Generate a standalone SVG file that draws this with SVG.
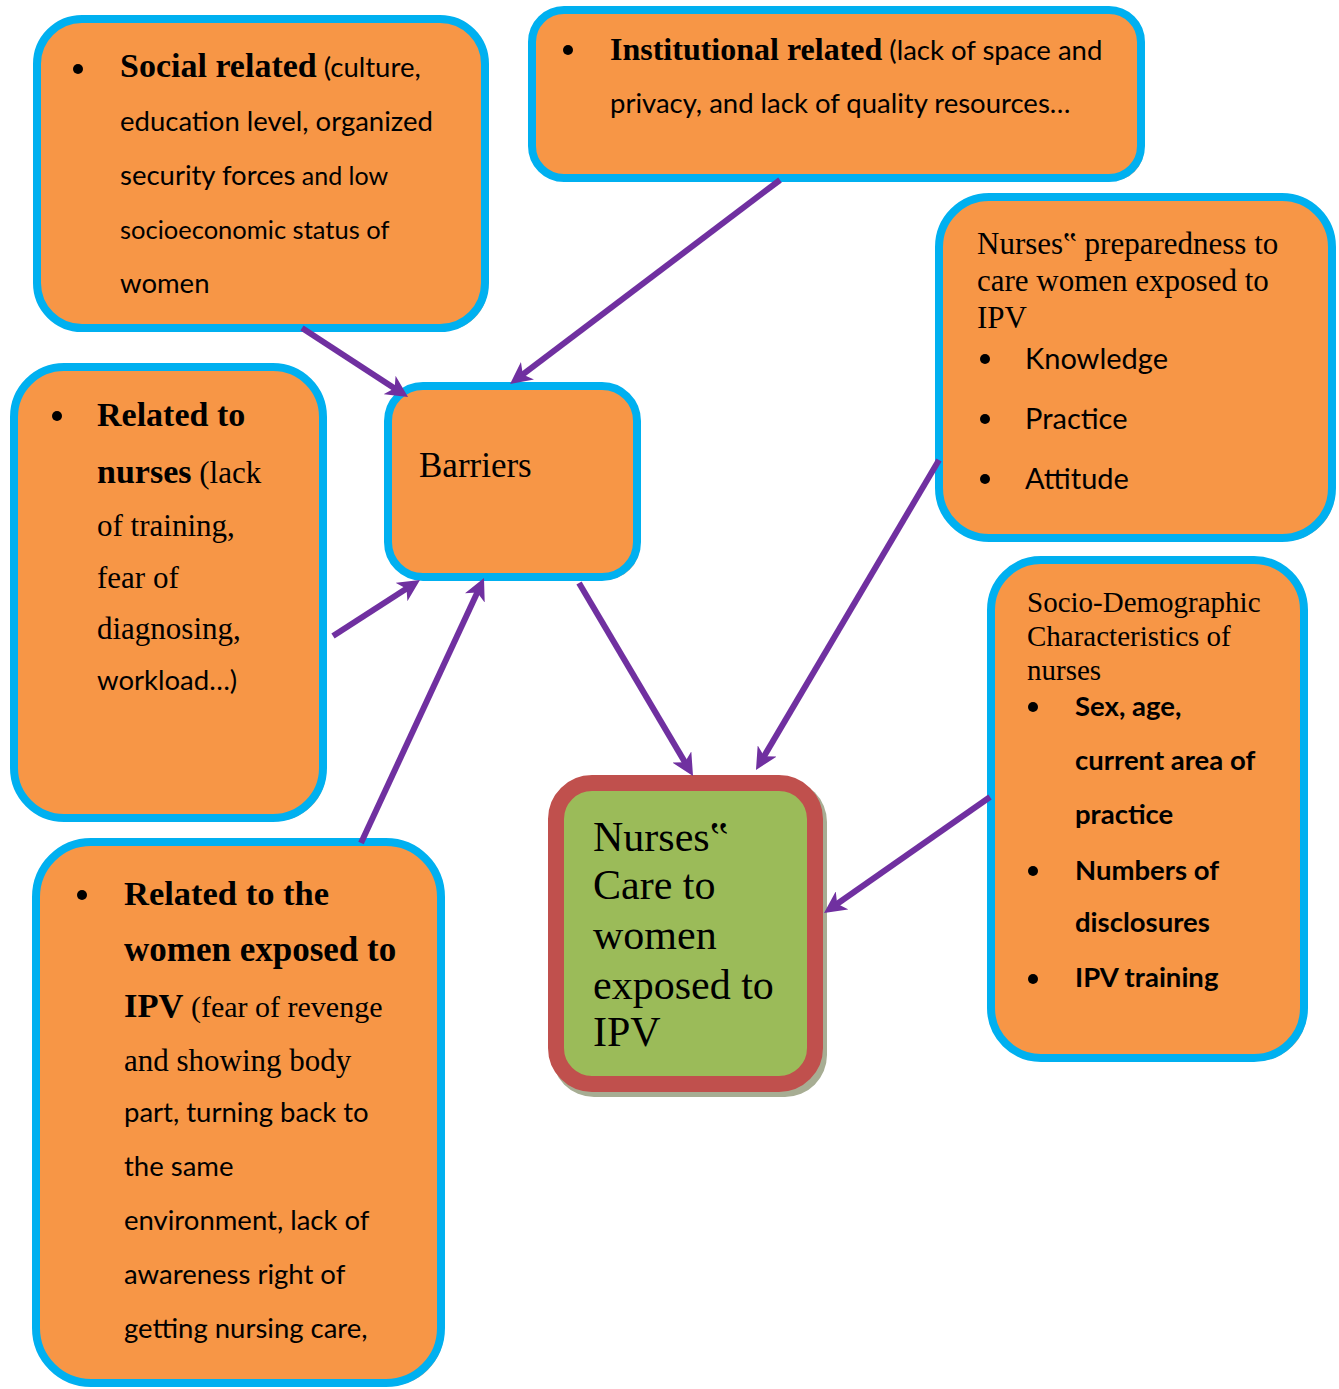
<svg xmlns="http://www.w3.org/2000/svg" width="1339" height="1389" viewBox="0 0 1339 1389">
<style>
.box{fill:#f79646;stroke:#00b0f0;stroke-width:8}
.sh{fill:#c9a88a}
.shg{fill:#a7ad93}
.core{fill:#9bbb59;stroke:#c0504d;stroke-width:16}
.bs{font-family:"Liberation Serif",serif;font-weight:bold;font-size:34px;fill:#000}
.rs{font-family:"Liberation Serif",serif;font-size:31px;fill:#000}
.sn{font-family:Lato,"Liberation Sans",sans-serif;font-size:27.5px;fill:#000}
.sb{font-family:Lato,"Liberation Sans",sans-serif;font-weight:bold;font-size:27.5px;fill:#000}
.dot{fill:#000}
.conn{stroke:#7030a0;stroke-width:6;fill:none;marker-end:url(#ah)}
</style>
<defs>
<marker id="ah" viewBox="0 0 22 22" markerWidth="22" markerHeight="22" markerUnits="userSpaceOnUse" refX="8" refY="11" orient="auto">
<path d="M0,0 L22,11 L0,22 L6,11 Z" fill="#7030a0"/>
</marker>
</defs>
<rect width="1339" height="1389" fill="#fff"/>

<g id="social">
<rect class="sh" x="40" y="22" width="448" height="309" rx="45"/>
<rect class="box" x="37" y="19" width="448" height="309" rx="45"/>
<circle class="dot" cx="78" cy="69" r="5"/>
<text x="120" y="77"><tspan class="bs">Social related</tspan><tspan class="sn"> (culture,</tspan></text>
<text class="sn" x="120" y="131">education level, organized</text>
<text x="120" y="185"><tspan class="sn">security forces</tspan><tspan class="sn" style="font-size:25px"> and low</tspan></text>
<text class="sn" style="font-size:25.5px" x="120" y="239">socioeconomic status of</text>
<text class="sn" x="120" y="293">women</text>
</g>

<g id="institutional">
<rect class="sh" x="535" y="13" width="609" height="168" rx="32"/>
<rect class="box" x="532" y="10" width="609" height="168" rx="32"/>
<circle class="dot" cx="568" cy="50" r="5"/>
<text x="610" y="60"><tspan class="bs" style="font-size:32px">Institutional related</tspan><tspan class="sn"> (lack of space and</tspan></text>
<text class="sn" x="610" y="113">privacy, and lack of quality resources…</text>
</g>

<g id="preparedness">
<rect class="sh" x="942" y="200" width="393" height="341" rx="50"/>
<rect class="box" x="939" y="197" width="393" height="341" rx="50"/>
<text class="rs" x="977" y="254">Nurses‟ preparedness to</text>
<text class="rs" x="977" y="291">care women exposed to</text>
<text class="rs" x="977" y="328">IPV</text>
<circle class="dot" cx="985" cy="359" r="5"/>
<circle class="dot" cx="985" cy="419" r="5"/>
<circle class="dot" cx="985" cy="479" r="5"/>
<text class="sn" style="font-size:29px" x="1025" y="369">Knowledge</text>
<text class="sn" style="font-size:29px" x="1025" y="429">Practice</text>
<text class="sn" style="font-size:29px" x="1025" y="489">Attitude</text>
</g>

<g id="barriers">
<rect class="sh" x="391" y="389" width="249" height="191" rx="35"/>
<rect class="box" x="388" y="386" width="249" height="191" rx="35"/>
<text class="rs" style="font-size:35px" x="419" y="477">Barriers</text>
</g>

<g id="nurses-related">
<rect class="sh" x="17" y="370" width="309" height="451" rx="50"/>
<rect class="box" x="14" y="367" width="309" height="451" rx="50"/>
<circle class="dot" cx="57" cy="416" r="5"/>
<text class="bs" x="97" y="426">Related to</text>
<text x="97" y="483"><tspan class="bs">nurses</tspan><tspan class="rs"> (lack</tspan></text>
<text class="rs" x="97" y="536">of training,</text>
<text class="rs" x="97" y="588">fear of</text>
<text class="rs" x="97" y="639">diagnosing,</text>
<text class="sn" x="97" y="690">workload…)</text>
</g>

<g id="women-related">
<rect class="sh" x="39" y="845" width="405" height="541" rx="55"/>
<rect class="box" x="36" y="842" width="405" height="541" rx="55"/>
<circle class="dot" cx="82" cy="895" r="5"/>
<text class="bs" style="font-size:34.5px" x="124" y="905">Related to the</text>
<text class="bs" style="font-size:35px" x="124" y="961">women exposed to</text>
<text x="124" y="1017"><tspan class="bs" style="font-size:34.5px">IPV</tspan><tspan class="rs" style="font-size:30px"> (fear of revenge</tspan></text>
<text class="rs" x="124" y="1071">and showing body</text>
<text class="sn" x="124" y="1122">part, turning back to</text>
<text class="sn" x="124" y="1176">the same</text>
<text class="sn" x="124" y="1230">environment, lack of</text>
<text class="sn" x="124" y="1284">awareness right of</text>
<text class="sn" x="124" y="1338">getting nursing care,</text>
</g>

<g id="nurses-care">
<rect class="shg" x="552" y="780" width="275" height="317" rx="42"/>
<rect class="core" x="556" y="783" width="259" height="301" rx="36"/>
<text class="rs" style="font-size:42px" x="593" y="851">Nurses‟</text>
<text class="rs" style="font-size:42px" x="593" y="899">Care to</text>
<text class="rs" style="font-size:42px" x="593" y="949">women</text>
<text class="rs" style="font-size:42px" x="593" y="999">exposed to</text>
<text class="rs" style="font-size:42px" x="593" y="1046">IPV</text>
</g>

<g id="socio-demographic">
<rect class="sh" x="994" y="563" width="313" height="498" rx="50"/>
<rect class="box" x="991" y="560" width="313" height="498" rx="50"/>
<text class="rs" style="font-size:29px" x="1027" y="612">Socio-Demographic</text>
<text class="rs" style="font-size:29px" x="1027" y="646">Characteristics of</text>
<text class="rs" style="font-size:29px" x="1027" y="680">nurses</text>
<circle class="dot" cx="1033" cy="707" r="5"/>
<circle class="dot" cx="1033" cy="871" r="5"/>
<circle class="dot" cx="1033" cy="979" r="5"/>
<text class="sb" x="1075" y="716">Sex, age,</text>
<text class="sb" x="1075" y="770">current area of</text>
<text class="sb" x="1075" y="824">practice</text>
<text class="sb" x="1075" y="880">Numbers of</text>
<text class="sb" x="1075" y="932">disclosures</text>
<text class="sb" x="1075" y="987">IPV training</text>
</g>

<g id="connectors">
<path class="conn" d="M302,328 L396.3,389.4"/>
<path class="conn" d="M780,180 L521.2,375.6"/>
<path class="conn" d="M333,636 L408.2,587.6"/>
<path class="conn" d="M361,843 L478.1,590.7"/>
<path class="conn" d="M579,583 L685.9,763.9"/>
<path class="conn" d="M939,460 L763.1,757.9"/>
<path class="conn" d="M990,797 L835.5,905"/>
</g>
</svg>
